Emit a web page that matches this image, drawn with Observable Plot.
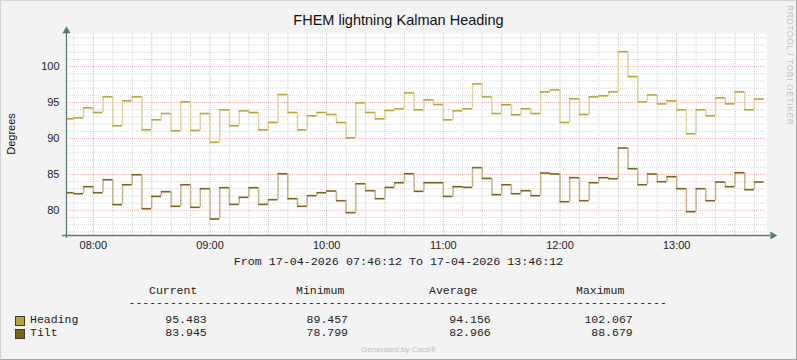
<!DOCTYPE html>
<html><head><meta charset="utf-8">
<script src="https://cdn.jsdelivr.net/npm/d3@7"></script>
<script src="https://cdn.jsdelivr.net/npm/@observablehq/plot@0.6"></script>
<style>
html,body{margin:0;padding:0;background:#fff;}
#wrap{position:relative;width:797px;height:360px;background:#f3f3f3;overflow:hidden;font-family:"Liberation Sans",Arial,sans-serif;color:#222;}
#wrap svg{position:absolute;left:0;top:0;}
.abs{position:absolute;white-space:pre;line-height:1;}
.mono{font-family:"Liberation Mono","DejaVu Sans Mono",monospace;font-size:11.5px;color:#222;}
.sw{position:absolute;width:8px;height:8px;border:1px solid #3a3a3a;}
#frame{position:absolute;left:0;top:0;width:797px;height:360px;box-sizing:border-box;border-top:1px solid #d4d4d4;border-left:1px solid #d4d4d4;border-right:1px solid #a8a8a8;border-bottom:1px solid #a8a8a8;pointer-events:none;}
</style></head><body><div id="wrap"></div>
<script>
// ---- data (5-minute intervals, start times) ----
const times = ["07:45","07:50","07:55","08:00","08:05","08:10","08:15","08:20","08:25","08:30","08:35","08:40",
"08:45","08:50","08:55","09:00","09:05","09:10","09:15","09:20","09:25","09:30","09:35","09:40",
"09:45","09:50","09:55","10:00","10:05","10:10","10:15","10:20","10:25","10:30","10:35","10:40",
"10:45","10:50","10:55","11:00","11:05","11:10","11:15","11:20","11:25","11:30","11:35","11:40",
"11:45","11:50","11:55","12:00","12:05","12:10","12:15","12:20","12:25","12:30","12:35","12:40",
"12:45","12:50","12:55","13:00","13:05","13:10","13:15","13:20","13:25","13:30","13:35","13:40"];
const heading = [92.73,92.87,94.26,93.61,95.79,91.76,95.23,95.79,91.20,92.59,93.47,91.06,
95.09,91.11,93.47,89.457,93.98,91.76,93.84,93.61,91.20,92.22,96.11,93.61,
91.20,93.15,93.61,93.33,92.22,90.09,94.95,93.61,92.73,93.89,94.12,96.34,
93.98,95.37,94.72,92.59,93.84,94.12,97.59,95.79,93.47,94.68,93.29,94.12,
93.47,96.48,96.76,92.22,95.51,93.33,95.79,95.93,96.48,102.067,98.61,95.09,
96.06,94.81,95.23,93.98,90.65,93.98,93.15,95.65,94.81,96.48,93.98,95.483];
const tilt = [82.45,82.31,83.29,82.45,84.26,80.79,83.56,84.95,80.23,81.94,82.59,80.56,
83.56,80.42,83.01,78.799,83.15,80.83,81.81,83.15,80.83,81.48,85.09,81.62,
80.56,82.04,82.45,82.69,81.34,79.68,83.70,82.73,81.62,83.19,83.84,85.09,
82.64,83.84,83.84,81.94,83.29,83.19,85.93,84.44,82.18,83.56,82.31,82.73,
82.04,85.19,85.05,81.20,84.54,81.34,83.84,84.54,84.40,88.679,85.79,83.56,
85.05,83.98,84.68,83.01,79.81,83.01,81.34,83.93,83.29,85.23,82.87,83.945];
const rangeStart = "07:46:12";
const rangeEnd = "13:46:12";
const hourTicks = ["08:00","09:00","10:00","11:00","12:00","13:00"];
const yTicks = [80,85,90,95,100];
const yDomain = [76.5,104.6];
const seriesNames = ["Heading","Tilt"];
const seriesColors = ["#b8a53a","#7d6219"];
const stepColors = ["#ddd4a0","#c2b48e"];
const statHeaders = ["Current","Minimum","Average","Maximum"];
const headingStats = ["95.483","89.457","94.156","102.067"];
const tiltStats = ["83.945","78.799","82.966","88.679"];
const title = "FHEM lightning Kalman Heading";
const yLabel = "Degrees";
const period = "From 17-04-2026 07:46:12 To 17-04-2026 13:46:12";

// ---- helpers ----
const day = "2026-04-17";
const toDate = (hm) => new Date(`${day}T${hm.length===5?hm+":00":hm}Z`);
const start = toDate(rangeStart), end = toDate(rangeEnd);
const stepMs = 5*60*1000;
function segs(values){
  const h=[], v=[];
  values.forEach((val,i)=>{
    const t0 = toDate(times[i]); const t1 = new Date(+t0+stepMs);
    h.push({x1: t0<start?start:t0, x2: t1, y: val});
    if(i<values.length-1) v.push({x: t1, y1: val, y2: values[i+1]});
  });
  return {h,v};
}
const H = segs(heading), T = segs(tilt);
const minorX = d3.utcMinute.every(10).range(start,end).filter(d=>d.getUTCMinutes()%30!==0);
const majorX = d3.utcMinute.every(30).range(start,end);
const minorY = d3.range(Math.ceil(yDomain[0]), Math.floor(yDomain[1])+1).filter(v=>v%5!==0);
const axisColor = "#5a7a72";
const minToMs = 60000;

const chart = Plot.plot({
  width: 797, height: 360,
  marginLeft: 66, marginRight: 31, marginTop: 33, marginBottom: 125,
  style: {background:"transparent", fontFamily:"'Liberation Sans',Arial,sans-serif", fontSize:"11px", color:"#222", overflow:"visible"},
  x: {type:"utc", domain:[start,end], ticks: hourTicks.map(toDate), tickFormat: d3.utcFormat("%H:%M"), tickSize:0, tickPadding:6, label:null},
  y: {domain: yDomain, ticks: yTicks, tickSize:0, tickPadding:7, label:null},
  marks: [
    Plot.frame({fill:"#ffffff", stroke:"none"}),
    Plot.ruleY(minorY, {stroke:"#d6d6d6", strokeDasharray:"1,1"}),
    Plot.ruleX(minorX, {stroke:"#d6d6d6", strokeDasharray:"1,1"}),
    Plot.ruleY(yTicks, {stroke:"#ebb6b6", strokeDasharray:"1,1"}),
    Plot.ruleX(majorX, {stroke:"#ebb6b6", strokeDasharray:"1,1"}),
    Plot.ruleX(H.v, {x:"x", y1:"y1", y2:"y2", stroke: stepColors[0], strokeWidth:1.5}),
    Plot.ruleX(T.v, {x:"x", y1:"y1", y2:"y2", stroke: stepColors[1], strokeWidth:1.5}),
    Plot.ruleY(H.h, {y:"y", x1:"x1", x2:"x2", stroke: seriesColors[0], strokeWidth:1.6}),
    Plot.ruleY(T.h, {y:"y", x1:"x1", x2:"x2", stroke: seriesColors[1], strokeWidth:1.6}),
    Plot.ruleY([yDomain[0]], {x1: new Date(+start-2*minToMs), x2: new Date(+end+2*minToMs), stroke: axisColor, strokeWidth:1.3}),
    Plot.ruleX([start], {y1: yDomain[0]-0.4, y2: yDomain[1]+0.2, stroke: axisColor, strokeWidth:1.3}),
    Plot.dot([{x:start, y:yDomain[1]+0.35}], {x:"x", y:"y", symbol:"triangle", r:3, fill: axisColor, stroke:"none"}),
    Plot.dot([{x:new Date(+end+3.2*minToMs), y:yDomain[0]}], {x:"x", y:"y", symbol:"triangle", r:3, rotate:90, fill: axisColor, stroke:"none"})
  ]
});

const wrap = document.getElementById("wrap");
wrap.appendChild(chart);
function addText(txt, css, cls){
  const d=document.createElement("div"); d.className="abs "+(cls||""); d.textContent=txt;
  Object.assign(d.style, css); wrap.appendChild(d); return d;
}
addText(title, {left:"0px", width:"797px", textAlign:"center", top:"13px", fontSize:"14.5px", color:"#111"});
addText(yLabel, {left:"11px", top:"134px", fontSize:"11px", color:"#111", transform:"translate(-50%,-50%) rotate(-90deg)"});
addText(period, {left:"0px", width:"797px", textAlign:"center", top:"257px", fontSize:"11.7px"}, "mono");
const headerLefts = [149,296,429,576];
statHeaders.forEach((h,i)=>addText(h,{left:headerLefts[i]+"px", top:"285px"},"mono"));
addText("-".repeat(78), {left:"128.5px", top:"297px"}, "mono");
const rightEdges = [206.7,348,490.7,632.7];
const rowTops = [313.5,327];
[headingStats, tiltStats].forEach((stats,r)=>{
  const sw=document.createElement("div"); sw.className="sw";
  Object.assign(sw.style,{left:"15px", top:(rowTops[r]+2)+"px", background:seriesColors[r]}); wrap.appendChild(sw);
  addText(seriesNames[r], {left:"30px", top:rowTops[r]+"px"}, "mono");
  stats.forEach((s,i)=>addText(s,{right:(797-rightEdges[i])+"px", top:rowTops[r]+"px", textAlign:"right"},"mono"));
});
addText("Generated by Cacti®", {left:"0px", width:"797px", textAlign:"center", top:"346px", fontSize:"8px", color:"#bdbdbd"});
addText("RRDTOOL / TOBI OETIKER", {left:"789px", top:"5px", fontSize:"8.5px", color:"#c4c4c4", letterSpacing:"0.6px", transformOrigin:"0 0", transform:"translate(5px,0) rotate(90deg)"});
const fr=document.createElement("div"); fr.id="frame"; wrap.appendChild(fr);
</script></body></html>
